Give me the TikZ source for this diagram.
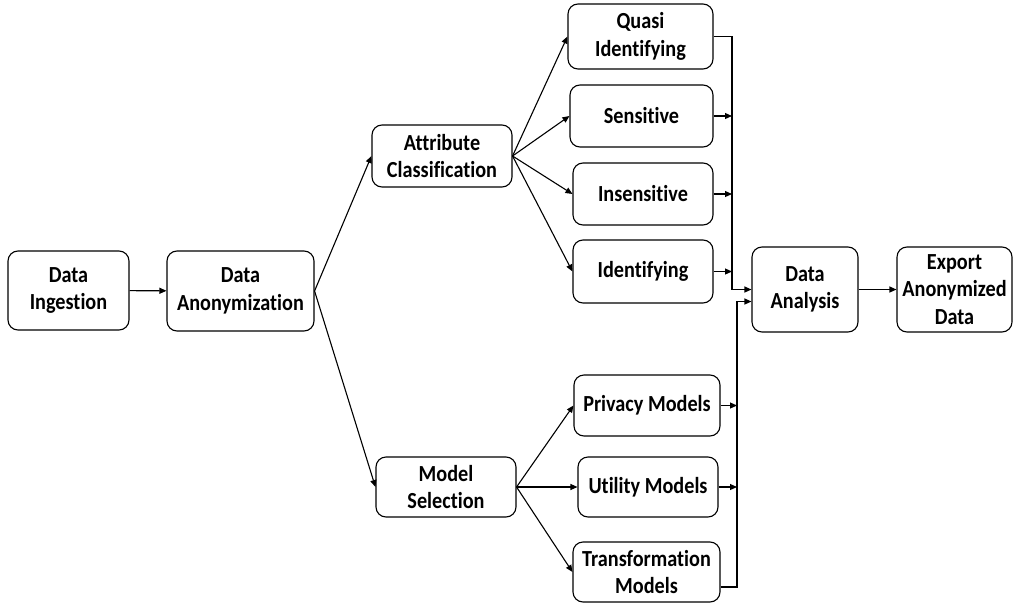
\documentclass[tikz,border=0pt]{standalone}
\usepackage{fontspec}
\setmainfont{Carlito}[FakeStretch=0.88,Ligatures=NoCommon]
\usetikzlibrary{arrows.meta,calc}
\begin{document}
\begin{tikzpicture}[x=1pt,y=-1pt,
  blk/.style={draw,line width=1.1pt,rounded corners=10pt,align=center,
    inner sep=0pt,font=\fontsize{23}{27.5}\selectfont\bfseries},
  arr/.style={line width=1.1pt,-{Triangle[length=7pt,width=6pt]}},
  ln/.style={line width=1.1pt}]
\useasboundingbox (0,0) rectangle (1020,605);
% left column
\node[blk,minimum width=121pt,minimum height=79pt] (ing) at (68.5,290.5) {Data\\Ingestion};
\node[blk,minimum width=147pt,minimum height=80pt] (anon) at (240.5,291) {Data\\Anonymization};
% second level
\node[blk,minimum width=140pt,minimum height=62pt] (attr) at (442,156) {Attribute\\Classification};
\node[blk,minimum width=140pt,minimum height=60pt] (model) at (446,487) {Model\\Selection};
% attribute types
\node[blk,minimum width=145pt,minimum height=65pt] (quasi) at (640.5,36.5) {Quasi\\Identifying};
\node[blk,minimum width=143pt,minimum height=62pt] (sens) at (641.5,116) {Sensitive};
\node[blk,minimum width=140pt,minimum height=62pt] (insens) at (643,194) {Insensitive};
\node[blk,minimum width=140pt,minimum height=63pt] (ident) at (643,271.5) {Identifying};
% model types
\node[blk,minimum width=146pt,minimum height=61pt] (priv) at (647,405.5) {Privacy Models};
\node[blk,minimum width=140pt,minimum height=60pt] (util) at (648,487) {Utility Models};
\node[blk,minimum width=147pt,minimum height=60pt] (trans) at (646.5,572) {Transformation\\Models};
% output stages
\node[blk,minimum width=106pt,minimum height=85pt] (ana) at (805,289.5) {Data\\Analysis};
\node[blk,minimum width=115pt,minimum height=85pt] (exp) at (954.5,289.5) {Export\\Anonymized\\Data};
% collector lines
\coordinate (busA) at (732,0);
\coordinate (busB) at (737,0);
\coordinate (inA) at (ana.west);
\coordinate (inB) at ([yshift=-12pt]ana.west);
% main flow
\draw[arr] (ing) -- (anon);
\draw[arr] (anon.east) -- (attr.west);
\draw[arr] (anon.east) -- (model.west);
\foreach \t in {quasi,sens,insens,ident} \draw[arr] (attr.east) -- (\t.west);
\foreach \t in {priv,util,trans} \draw[arr] (model.east) -- (\t.west);
% into the first collector
\draw[arr] (quasi.east) -- (quasi.east -| busA) |- (inA);
\foreach \t in {sens,insens,ident} \draw[arr] (\t.east) -- (\t.east -| busA);
% into the second collector
\draw[arr] ([yshift=-15pt]trans.east) -- ([yshift=-15pt]trans.east -| busB) |- (inB);
\foreach \t in {priv,util} \draw[arr] (\t.east) -- (\t.east -| busB);
\draw[arr] (ana) -- (exp);
\end{tikzpicture}
\end{document}
